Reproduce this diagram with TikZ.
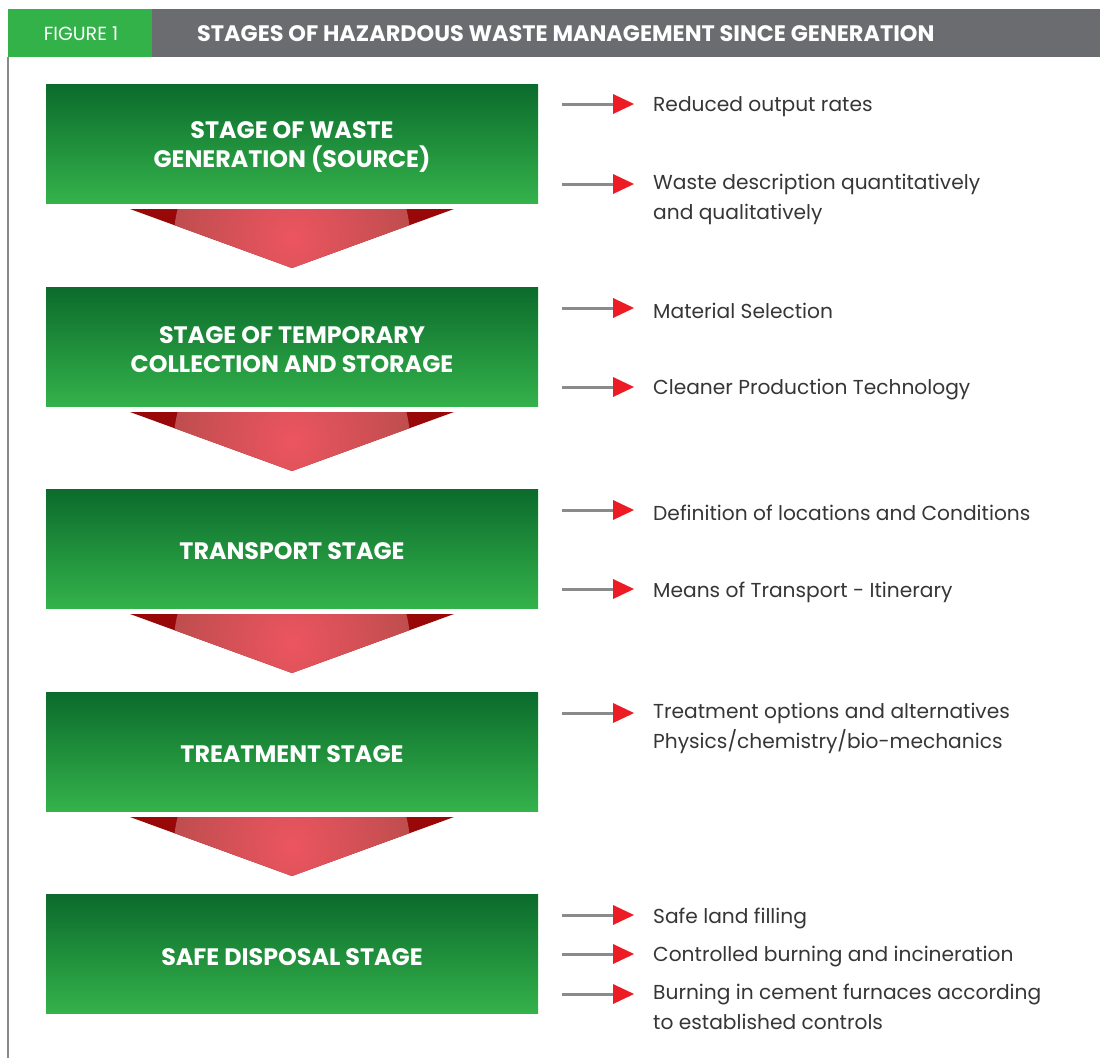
\documentclass[tikz,border=0pt]{standalone}
\usepackage{fontspec}
\setmainfont{Poppins}
\definecolor{hdrgreen}{HTML}{33B24A}
\definecolor{hdrgray}{HTML}{6B6C70}
\definecolor{boxtop}{HTML}{0B6B2C}
\definecolor{boxbot}{HTML}{34B24B}
\definecolor{arrred}{HTML}{ED1C24}
\definecolor{linegray}{HTML}{8A8A8D}
\definecolor{txtgray}{HTML}{363636}
\definecolor{darkred}{HTML}{980808}
\definecolor{pinkin}{HTML}{EC5560}
\definecolor{pinkout}{HTML}{BF4D4E}
\tikzset{
  stagebox/.style={minimum width=492pt, minimum height=119pt, inner sep=0pt,
    top color=boxtop, bottom color=boxbot},
  stagetext/.style={inner sep=0pt, text=white, align=center,
    font=\fontsize{23.8}{29}\selectfont\bfseries},
  itemtext/.style={anchor=west, inner sep=0pt, text=txtgray, align=left,
    font=\fontsize{20.2}{30}\selectfont},
  grayline/.style={draw=linegray, line width=3pt},
  redtip/.style={fill=arrred},
}
\newcommand{\downarrowshape}[1]{%
  \fill[darkred] (130,#1) -- (454,#1) -- (292,#1+59) -- cycle;
  \begin{scope}
    \clip (130,#1) -- (454,#1) -- (292,#1+59) -- cycle;
    \shade[inner color=pinkin, outer color=pinkout] (292,#1+29) circle (118);
  \end{scope}}
\newcommand{\itemarrow}[2]{%
  \coordinate (#1s) at (562,#2);
  \coordinate (#1e) at (615,#2);
  \draw[grayline] (#1s) -- (#1e);
  \fill[redtip] (613,#2-10) -- (634,#2) -- (613,#2+10) -- cycle;}
\begin{document}
\begin{tikzpicture}[x=1pt,y=-1pt]
\useasboundingbox (0,0) rectangle (1100,1058);
\fill[white] (0,0) rectangle (1100,1058);
% header
\fill[hdrgreen] (8,9) rectangle (152,57);
\fill[hdrgray] (152,9) rectangle (1100,57);
\node[text=white, inner sep=0pt, font=\fontsize{19}{22}\selectfont] (fig) at (81,34) {FIGURE 1};
\node[text=white, inner sep=0pt, anchor=west, font=\fontsize{22.4}{26}\selectfont\bfseries] (title) at (197,34) {STAGES OF HAZARDOUS WASTE MANAGEMENT SINCE GENERATION};
\draw[linegray, line width=1.5pt] (8,57) -- (8,1058);
% stage boxes
\node[stagebox] (s1) at (292,143.5) {};
\node[stagebox] (s2) at (292,346.5) {};
\node[stagebox] (s3) at (292,548.5) {};
\node[stagebox] (s4) at (292,751.5) {};
\node[stagebox] (s5) at (292,954) {};
\node[stagetext] (s1t) at ([yshift=-3.5pt]s1.center) {STAGE OF WASTE\\GENERATION (SOURCE)};
\node[stagetext] (s2t) at ([yshift=-3.5pt]s2.center) {STAGE OF TEMPORARY\\COLLECTION AND STORAGE};
\node[stagetext] (s3t) at ([yshift=-3pt]s3.center) {TRANSPORT STAGE};
\node[stagetext] (s4t) at ([yshift=-3pt]s4.center) {TREATMENT STAGE};
\node[stagetext] (s5t) at ([yshift=-3pt]s5.center) {SAFE DISPOSAL STAGE};
% down arrows
\downarrowshape{209}
\downarrowshape{412}
\downarrowshape{614}
\downarrowshape{817}
% items
\itemarrow{a1}{104}
\node[itemtext] (t1) at (653,107) {Reduced output rates};
\itemarrow{a2}{184}
\node[itemtext, anchor=north west] (t2) at (653,174) {Waste description quantitatively\\and qualitatively};
\itemarrow{a3}{308}
\node[itemtext] (t3) at (653,311) {Material Selection};
\itemarrow{a4}{387}
\node[itemtext] (t4) at (653,390) {Cleaner Production Technology};
\itemarrow{a5}{510}
\node[itemtext] (t5) at (653,513) {Definition of locations and Conditions};
\itemarrow{a6}{589}
\node[itemtext] (t6) at (653,592) {Means of Transport - Itinerary};
\itemarrow{a7}{713}
\node[itemtext, anchor=north west] (t7) at (653,703) {Treatment options and alternatives\\Physics/chemistry/bio-mechanics};
\itemarrow{a8}{915}
\node[itemtext] (t8) at (653,918) {Safe land filling};
\itemarrow{a9}{954}
\node[itemtext] (t9) at (653,957) {Controlled burning and incineration};
\itemarrow{a10}{994}
\node[itemtext, anchor=north west] (t10) at (653,984) {Burning in cement furnaces according\\to established controls};
\end{tikzpicture}
\end{document}
